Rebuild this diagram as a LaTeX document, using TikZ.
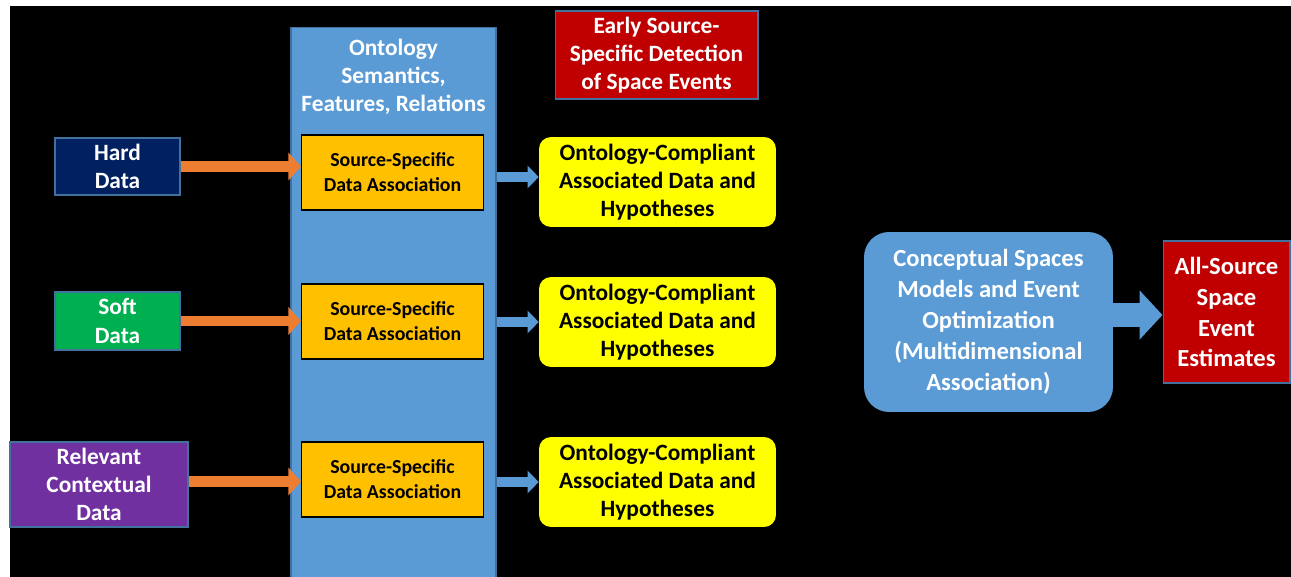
\documentclass[tikz,border=0pt]{standalone}
\usepackage{fontspec}
\setmainfont{Carlito}
\usepackage{tikz}
\usetikzlibrary{arrows.meta}
\usetikzlibrary{positioning}

\definecolor{navybox}{HTML}{002060}
\definecolor{greenbox}{HTML}{00B050}
\definecolor{purplebox}{HTML}{7030A0}
\definecolor{orangearr}{HTML}{ED7D31}
\definecolor{skyblue}{HTML}{5B9BD5}
\definecolor{goldbox}{HTML}{FFC000}
\definecolor{yellowbox}{HTML}{FFFF00}
\definecolor{redbox}{HTML}{C00000}
\definecolor{edgeblue}{HTML}{41719C}

\newcommand{\boxfont}{\fontsize{13.3}{16}\selectfont\bfseries}
\newcommand{\smallboxfont}{\fontsize{11.3}{14.2}\selectfont\bfseries}
\newcommand{\largeboxfont}{\fontsize{14}{17.6}\selectfont\bfseries}

\tikzset{
    source/.style={
           rectangle,
           draw=edgeblue, line width=0.6pt,
           text=white,
           align=center,
           font=\boxfont,
           inner sep=1pt,
           },
    assoc/.style={
           rectangle,
           draw=black, line width=0.6pt,
           fill=goldbox,
           align=center,
           font=\smallboxfont,
           minimum width=3.64cm, minimum height=1.5cm,
           inner sep=1pt,
           },
    compliant/.style={
           rectangle,
           rounded corners=0.24cm,
           fill=yellowbox,
           align=center,
           font=\boxfont,
           minimum width=4.74cm, minimum height=1.8cm,
           inner sep=1pt,
           },
    feed/.style={
           draw=orangearr, line width=0.22cm,
           -{Triangle[length=0.25cm,width=0.54cm]},
           },
    pass/.style={
           draw=skyblue, line width=0.2cm,
           -{Triangle[length=0.22cm,width=0.44cm]},
           },
}

\begin{document}
\begin{tikzpicture}[x=0.02cm,y=-0.02cm]

    \useasboundingbox (0,0) rectangle (1291,577);
    \fill[black] (10,6) rectangle (1291,577);

    % ontology column
    \node[rectangle,draw=edgeblue,line width=0.6pt,fill=skyblue,
          minimum width=4.1cm,minimum height=11.2cm,anchor=north]
        (onto) at (393.5,27) {};
    \node[anchor=north,text=white,font=\boxfont,align=center,inner sep=0pt]
        (ontotitle) at ([yshift=-0.24cm]onto.north) {Ontology\\Semantics,\\Features, Relations};

    % data sources
    \node[source,fill=navybox,minimum width=2.5cm,minimum height=1.14cm]
        (hard) at (117.5,166.5) {Hard\\Data};
    \node[source,fill=greenbox,minimum width=2.5cm,minimum height=1.16cm]
        (soft) at (117.5,321) {Soft\\Data};
    \node[source,fill=purplebox,minimum width=3.56cm,minimum height=1.7cm]
        (context) at (99,484.5) {Relevant\\Contextual\\Data};

    % association boxes
    \node[assoc] (assocA) at (392.5,172.5) {Source-Specific\\Data Association};
    \node[assoc] (assocB) at (392.5,321.5) {Source-Specific\\Data Association};
    \node[assoc] (assocC) at (392.5,479.5) {Source-Specific\\Data Association};

    % compliant outputs
    \node[compliant] (compA) at (657.5,182) {Ontology-Compliant\\Associated Data and\\Hypotheses};
    \node[compliant] (compB) at (657.5,322) {Ontology-Compliant\\Associated Data and\\Hypotheses};
    \node[compliant] (compC) at (657.5,482) {Ontology-Compliant\\Associated Data and\\Hypotheses};

    \node[source,fill=redbox,minimum width=4.06cm,minimum height=1.76cm]
        (early) at (656.5,55) {Early Source-\\Specific Detection\\of Space Events};

    \node[rectangle,rounded corners=0.5cm,fill=skyblue,text=white,align=center,
          font=\largeboxfont,minimum width=4.98cm,minimum height=3.6cm]
        (concept) at (988.5,322) {Conceptual Spaces\\Models and Event\\Optimization\\(Multidimensional\\Association)};
    \node[source,fill=redbox,font=\largeboxfont,minimum width=2.54cm,minimum height=2.84cm]
        (allsrc) at (1226.5,312) {All-Source\\Space\\Event\\Estimates};

    \draw[feed] (hard.east) -- (hard.east -| assocA.west);
    \draw[feed] (soft.east) -- (soft.east -| assocB.west);
    \draw[feed] ([yshift=0.06cm]context.east) -- ([yshift=0.06cm]context.east -| assocC.west);

    \draw[pass] ([yshift=0.1cm]compA.west -| onto.east) -- ([yshift=0.1cm]compA.west);
    \draw[pass] (compB.west -| onto.east) -- (compB.west);
    \draw[pass] (compC.west -| onto.east) -- (compC.west);

    \draw[draw=skyblue,line width=0.48cm,-{Triangle[length=0.46cm,width=0.96cm]}]
        ([yshift=-0.06cm]concept.east |- allsrc.west) -- ([yshift=-0.06cm]allsrc.west);

\end{tikzpicture}
\end{document}
